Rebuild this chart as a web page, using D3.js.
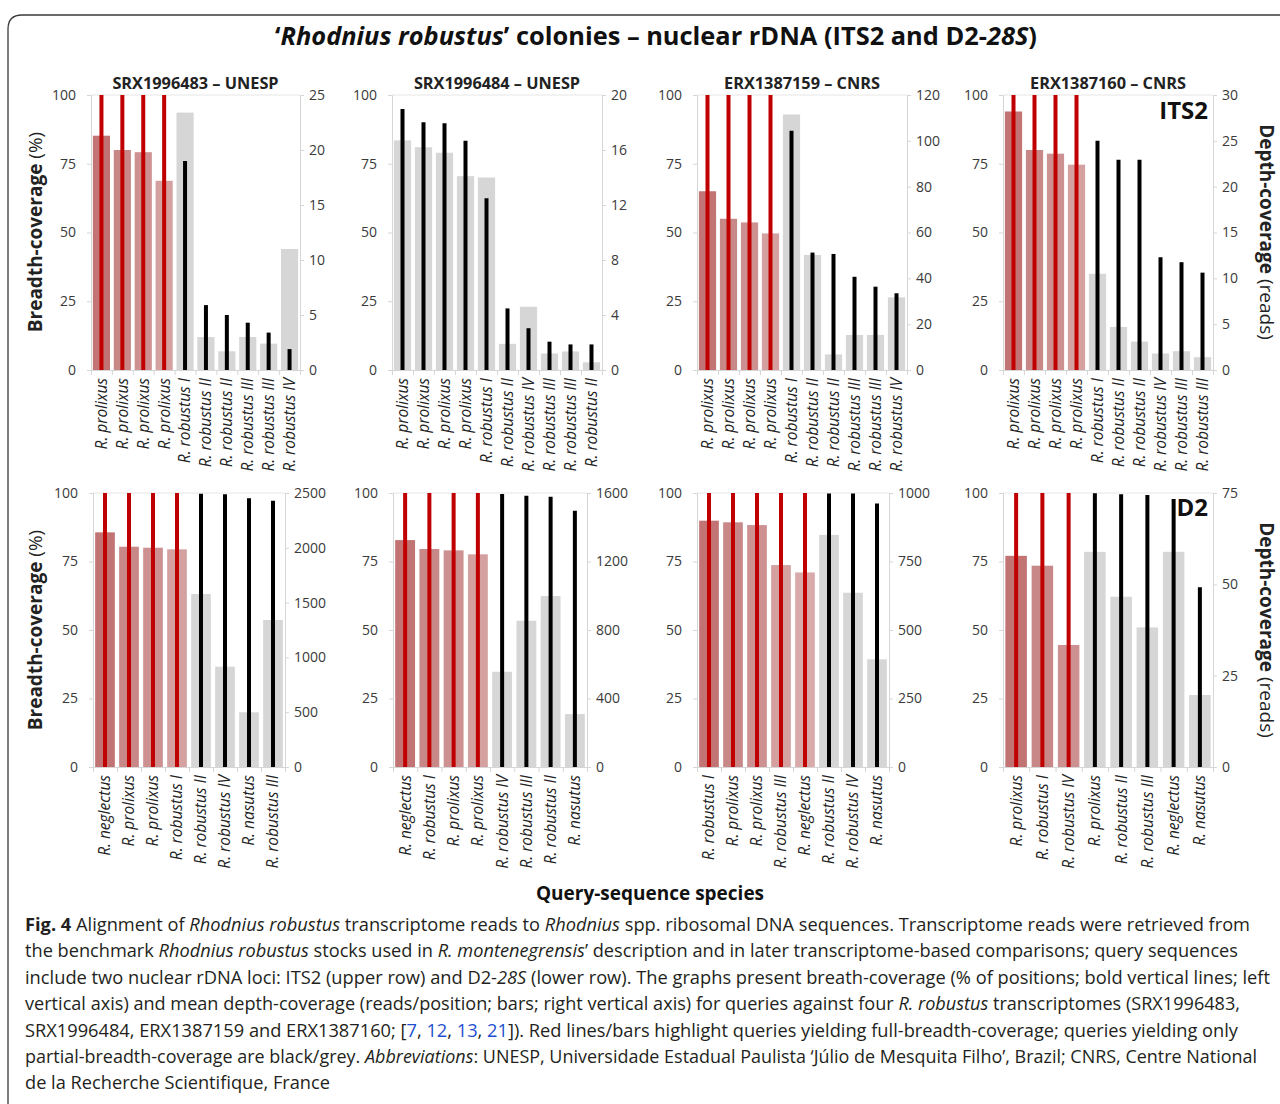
<!DOCTYPE html>
<html>
<head>
<meta charset="utf-8">
<script src="https://cdn.jsdelivr.net/npm/d3@7"></script>
<style>
body { margin: 0; background: #fff; }
text { font-family: "Open Sans", sans-serif; }
</style>
</head>
<body>
<svg id="chart" width="1280" height="1104"></svg>
<script>
// panel titles (transcriptomes)
const panelTitles = ["SRX1996483 – UNESP", "SRX1996484 – UNESP", "ERX1387159 – CNRS", "ERX1387160 – CNRS"]

// ITS2 (upper row)
const its2Species = [
    ["R. prolixus", "R. prolixus", "R. prolixus", "R. prolixus", "R. robustus I", "R. robustus II", "R. robustus II", "R. robustus III", "R. robustus III", "R. robustus IV"],
    ["R. prolixus", "R. prolixus", "R. prolixus", "R. prolixus", "R. robustus I", "R. robustus II", "R. robustus IV", "R. robustus III", "R. robustus III", "R. robustus II"],
    ["R. prolixus", "R. prolixus", "R. prolixus", "R. prolixus", "R. robustus I", "R. robustus II", "R. robustus II", "R. robustus III", "R. robustus III", "R. robustus IV"],
    ["R. prolixus", "R. prolixus", "R. prolixus", "R. prolixus", "R. robustus I", "R. robustus II", "R. robustus II", "R. robustus IV", "R. robustus III", "R. robustus III"]
]
const its2Breadth = [
    [100, 100, 100, 100, 76, 23.6, 20, 17.2, 13.6, 7.6],
    [94.9, 90.1, 89.7, 83.4, 62.5, 22.4, 15.2, 10.3, 9.3, 9.3],
    [100, 100, 100, 100, 87, 42.7, 42.2, 33.9, 30.3, 27.9],
    [100, 100, 100, 100, 83.4, 76.5, 76.5, 41, 39.2, 35.4]
]
const its2Depth = [
    [21.3, 20.0, 19.8, 17.2, 23.4, 3.0, 1.7, 3.0, 2.4, 11.0],
    [16.7, 16.2, 15.8, 14.1, 14.0, 1.9, 4.6, 1.2, 1.35, 0.56],
    [78, 66, 64.4, 59.6, 111.5, 50.2, 6.8, 15.3, 15.3, 31.7],
    [28.2, 24.0, 23.6, 22.4, 10.5, 4.7, 3.1, 1.8, 2.05, 1.4]
]
const its2DepthTicks = [
    [0, 5, 10, 15, 20, 25],
    [0, 4, 8, 12, 16, 20],
    [0, 20, 40, 60, 80, 100, 120],
    [0, 5, 10, 15, 20, 25, 30]
]

// D2-28S (lower row)
const d2Species = [
    ["R. neglectus", "R. prolixus", "R. prolixus", "R. robustus I", "R. robustus II", "R. robustus IV", "R. nasutus", "R. robustus III"],
    ["R. neglectus", "R. robustus I", "R. prolixus", "R. prolixus", "R. robustus IV", "R. robustus III", "R. robustus II", "R. nasutus"],
    ["R. robustus I", "R. prolixus", "R. prolixus", "R. robustus III", "R. neglectus", "R. robustus II", "R. robustus IV", "R. nasutus"],
    ["R. prolixus", "R. robustus I", "R. robustus IV", "R. prolixus", "R. robustus II", "R. robustus III", "R. neglectus", "R. nasutus"]
]
const d2Breadth = [
    [100, 100, 100, 100, 99.7, 99.5, 98.1, 97.2],
    [100, 100, 100, 100, 99.6, 99.0, 98.6, 93.5],
    [100, 100, 100, 100, 100, 99.8, 99.8, 96.2],
    [100, 100, 100, 99.9, 99.5, 99.3, 97.8, 65.6]
]
const d2Depth = [
    [2141, 2010, 2001, 1986, 1578, 915, 499, 1341],
    [1325, 1273, 1265, 1242, 556, 854, 998, 309],
    [899, 893, 883, 737, 710, 847, 636, 393],
    [57.8, 55.1, 33.4, 58.9, 46.6, 38.2, 58.9, 19.7]
]
const d2DepthTicks = [
    [0, 500, 1000, 1500, 2000, 2500],
    [0, 400, 800, 1200, 1600],
    [0, 250, 500, 750, 1000],
    [0, 25, 50, 75]
]
const breadthTicks = [0, 25, 50, 75, 100]

const svg = d3.select("#chart")

svg.append("rect")
    .attr("width", 1280)
    .attr("height", 1104)
    .attr("fill", "#fff")

// frame round the figure
svg.append("path")
    .attr("d", "M1280,15 H22 Q8,15 8,29 V1104")
    .attr("fill", "none")
    .attr("stroke", "#3a3a3a")
    .attr("stroke-width", 1.3)

// title
const title = svg.append("text")
    .attr("x", 656)
    .attr("y", 45)
    .attr("text-anchor", "middle")
    .attr("font-size", 25)
    .attr("font-weight", "bold")
    .attr("fill", "#111")
    .attr("textLength", 762)
    .attr("lengthAdjust", "spacingAndGlyphs")
title.append("tspan").text("‘")
title.append("tspan").attr("font-style", "italic").text("Rhodnius robustus")
title.append("tspan").text("’ colonies – nuclear rDNA (ITS2 and D2-")
title.append("tspan").attr("font-style", "italic").text("28S")
title.append("tspan").text(")")

const redShades = ["#c27373", "#c98888", "#cd9191", "#d4a0a0", "#d9aaaa"]
const axisGrey = "#d6d6d6"

function drawPanel(species, breadth, depth, depthTicks, x0, x1, y0, y1, showTitle, idx) {
    const n = species.length
    const g = svg.append("g")

    const x = d3.scaleBand()
        .domain(d3.range(n))
        .range([x0, x1])
        .paddingInner(0.18)
        .paddingOuter(0.09)
    const yL = d3.scaleLinear().domain([0, 100]).range([y1, y0])
    const yR = d3.scaleLinear().domain([0, d3.max(depthTicks)]).range([y1, y0])
    const xEdges = d3.scaleLinear().domain([0, n]).range([x0, x1])

    // plot top border
    g.append("line")
        .attr("x1", x0).attr("x2", x1)
        .attr("y1", y0).attr("y2", y0)
        .attr("stroke", "#e6e6e6")

    // left axis
    const left = g.append("g")
        .attr("transform", `translate(${x0},0)`)
        .call(d3.axisLeft(yL).tickValues(breadthTicks).tickSize(4).tickPadding(11))
    // right axis
    const right = g.append("g")
        .attr("transform", `translate(${x1},0)`)
        .call(d3.axisRight(yR).tickValues(depthTicks).tickSize(4).tickPadding(5).tickFormat(d3.format("d")))
    // category axis, ticks between categories
    const bottom = g.append("g")
        .attr("transform", `translate(0,${y1})`)
        .call(d3.axisBottom(xEdges).tickValues(d3.range(n + 1)).tickSize(5).tickFormat(""))

    ;[left, right, bottom].forEach(a => {
        a.select(".domain").attr("stroke", axisGrey)
        a.selectAll(".tick line").attr("stroke", axisGrey)
        a.selectAll(".tick text")
            .attr("font-size", 14)
            .attr("font-family", "Open Sans, sans-serif")
            .attr("fill", "#3a3a3a")
    })

    // depth-coverage bars
    let redCount = 0
    const barColor = breadth.map(b => b >= 100 ? redShades[redCount++] : "#d6d6d6")
    g.selectAll("rect.bar")
        .data(depth)
        .enter()
        .append("rect")
        .attr("class", "bar")
        .attr("x", (d, i) => x(i))
        .attr("width", x.bandwidth())
        .attr("y", d => yR(d))
        .attr("height", d => y1 - yR(d))
        .attr("fill", (d, i) => barColor[i])

    // breadth-coverage lines
    g.selectAll("line.breadth")
        .data(breadth)
        .enter()
        .append("line")
        .attr("class", "breadth")
        .attr("x1", (d, i) => x(i) + x.bandwidth() / 2)
        .attr("x2", (d, i) => x(i) + x.bandwidth() / 2)
        .attr("y1", yL(0))
        .attr("y2", d => yL(d))
        .attr("stroke", d => d >= 100 ? "#c00000" : "#000")
        .attr("stroke-width", 4)

    // category labels
    g.selectAll("text.cat")
        .data(species)
        .enter()
        .append("text")
        .attr("class", "cat")
        .attr("transform", (d, i) => `translate(${x(i) + x.bandwidth() / 2},${y1 + 8}) rotate(-90)`)
        .attr("dy", "0.35em")
        .attr("text-anchor", "end")
        .attr("font-size", 15.5)
        .attr("font-style", "italic")
        .attr("fill", "#222")
        .text(d => d)

    if (showTitle) {
        g.append("text")
            .attr("x", (x0 + x1) / 2)
            .attr("y", y0 - 6)
            .attr("text-anchor", "middle")
            .attr("font-size", 16.3)
            .attr("font-weight", "bold")
            .attr("fill", "#222")
            .text(panelTitles[idx])
    }
}

const topX = [[91, 300], [392, 602], [697, 907], [1003, 1213]]
const botX = [[93, 285], [393, 587], [697, 889], [1003, 1213]]

for (let p = 0; p < 4; p++) {
    drawPanel(its2Species[p], its2Breadth[p], its2Depth[p], its2DepthTicks[p], topX[p][0], topX[p][1], 95, 370, true, p)
    drawPanel(d2Species[p], d2Breadth[p], d2Depth[p], d2DepthTicks[p], botX[p][0], botX[p][1], 493, 767, false, p)
}

// locus tags
svg.append("text").attr("x", 1208).attr("y", 119).attr("text-anchor", "end")
    .attr("font-size", 24).attr("font-weight", "bold").attr("fill", "#111").text("ITS2")
svg.append("text").attr("x", 1208).attr("y", 516).attr("text-anchor", "end")
    .attr("font-size", 24).attr("font-weight", "bold").attr("fill", "#111").text("D2")

// axis titles
;[232, 630].forEach(cy => {
    const l = svg.append("text")
        .attr("transform", `translate(35,${cy}) rotate(-90)`)
        .attr("dy", "0.35em")
        .attr("text-anchor", "middle")
        .attr("font-size", 19)
        .attr("fill", "#222")
    l.append("tspan").attr("font-weight", "bold").text("Breadth-coverage ")
    l.append("tspan").text("(%)")

    const r = svg.append("text")
        .attr("transform", `translate(1267,${cy}) rotate(90)`)
        .attr("dy", "0.35em")
        .attr("text-anchor", "middle")
        .attr("font-size", 19)
        .attr("fill", "#222")
    r.append("tspan").attr("font-weight", "bold").text("Depth-coverage ")
    r.append("tspan").text("(reads)")
})

svg.append("text")
    .attr("x", 650)
    .attr("y", 900)
    .attr("text-anchor", "middle")
    .attr("font-size", 19)
    .attr("font-weight", "bold")
    .attr("fill", "#111")
    .text("Query-sequence species")

// caption: [text, style] pieces per line
const captionLines = [
    [["Fig. 4", "b"], ["  Alignment of ", ""], ["Rhodnius robustus", "i"], [" transcriptome reads to ", ""], ["Rhodnius", "i"], [" spp. ribosomal DNA sequences. Transcriptome reads were retrieved from", ""]],
    [["the benchmark ", ""], ["Rhodnius robustus", "i"], [" stocks used in ", ""], ["R. montenegrensis", "i"], ["’ description and in later transcriptome-based comparisons; query sequences", ""]],
    [["include two nuclear rDNA loci: ITS2 (upper row) and D2-", ""], ["28S", "i"], [" (lower row). The graphs present breath-coverage (% of positions; bold vertical lines; left", ""]],
    [["vertical axis) and mean depth-coverage (reads/position; bars; right vertical axis) for queries against four ", ""], ["R. robustus", "i"], [" transcriptomes (SRX1996483,", ""]],
    [["SRX1996484, ERX1387159 and ERX1387160; [", ""], ["7", "l"], [", ", ""], ["12", "l"], [", ", ""], ["13", "l"], [", ", ""], ["21", "l"], ["]). Red lines/bars highlight queries yielding full-breadth-coverage; queries yielding only", ""]],
    [["partial-breadth-coverage are black/grey. ", ""], ["Abbreviations", "i"], [": UNESP, Universidade Estadual Paulista ‘Júlio de Mesquita Filho’, Brazil; CNRS, Centre National", ""]],
    [["de la Recherche Scientifique, France", ""]]
]
const captionEnds = [1250, 1238, 1270, 1240, 1238, 1257, 330]

captionLines.forEach((line, i) => {
    const t = svg.append("text")
        .attr("x", 25)
        .attr("y", 931 + i * 26.4)
        .attr("font-size", 18)
        .attr("fill", "#231f20")
        .attr("textLength", captionEnds[i] - 25)
        .attr("lengthAdjust", "spacingAndGlyphs")
    line.forEach(([txt, st]) => {
        const s = t.append("tspan").text(txt)
        if (st === "b") s.attr("font-weight", "bold")
        if (st === "i") s.attr("font-style", "italic")
        if (st === "l") s.attr("fill", "#1f4fd0")
    })
})
</script>
</body>
</html>
